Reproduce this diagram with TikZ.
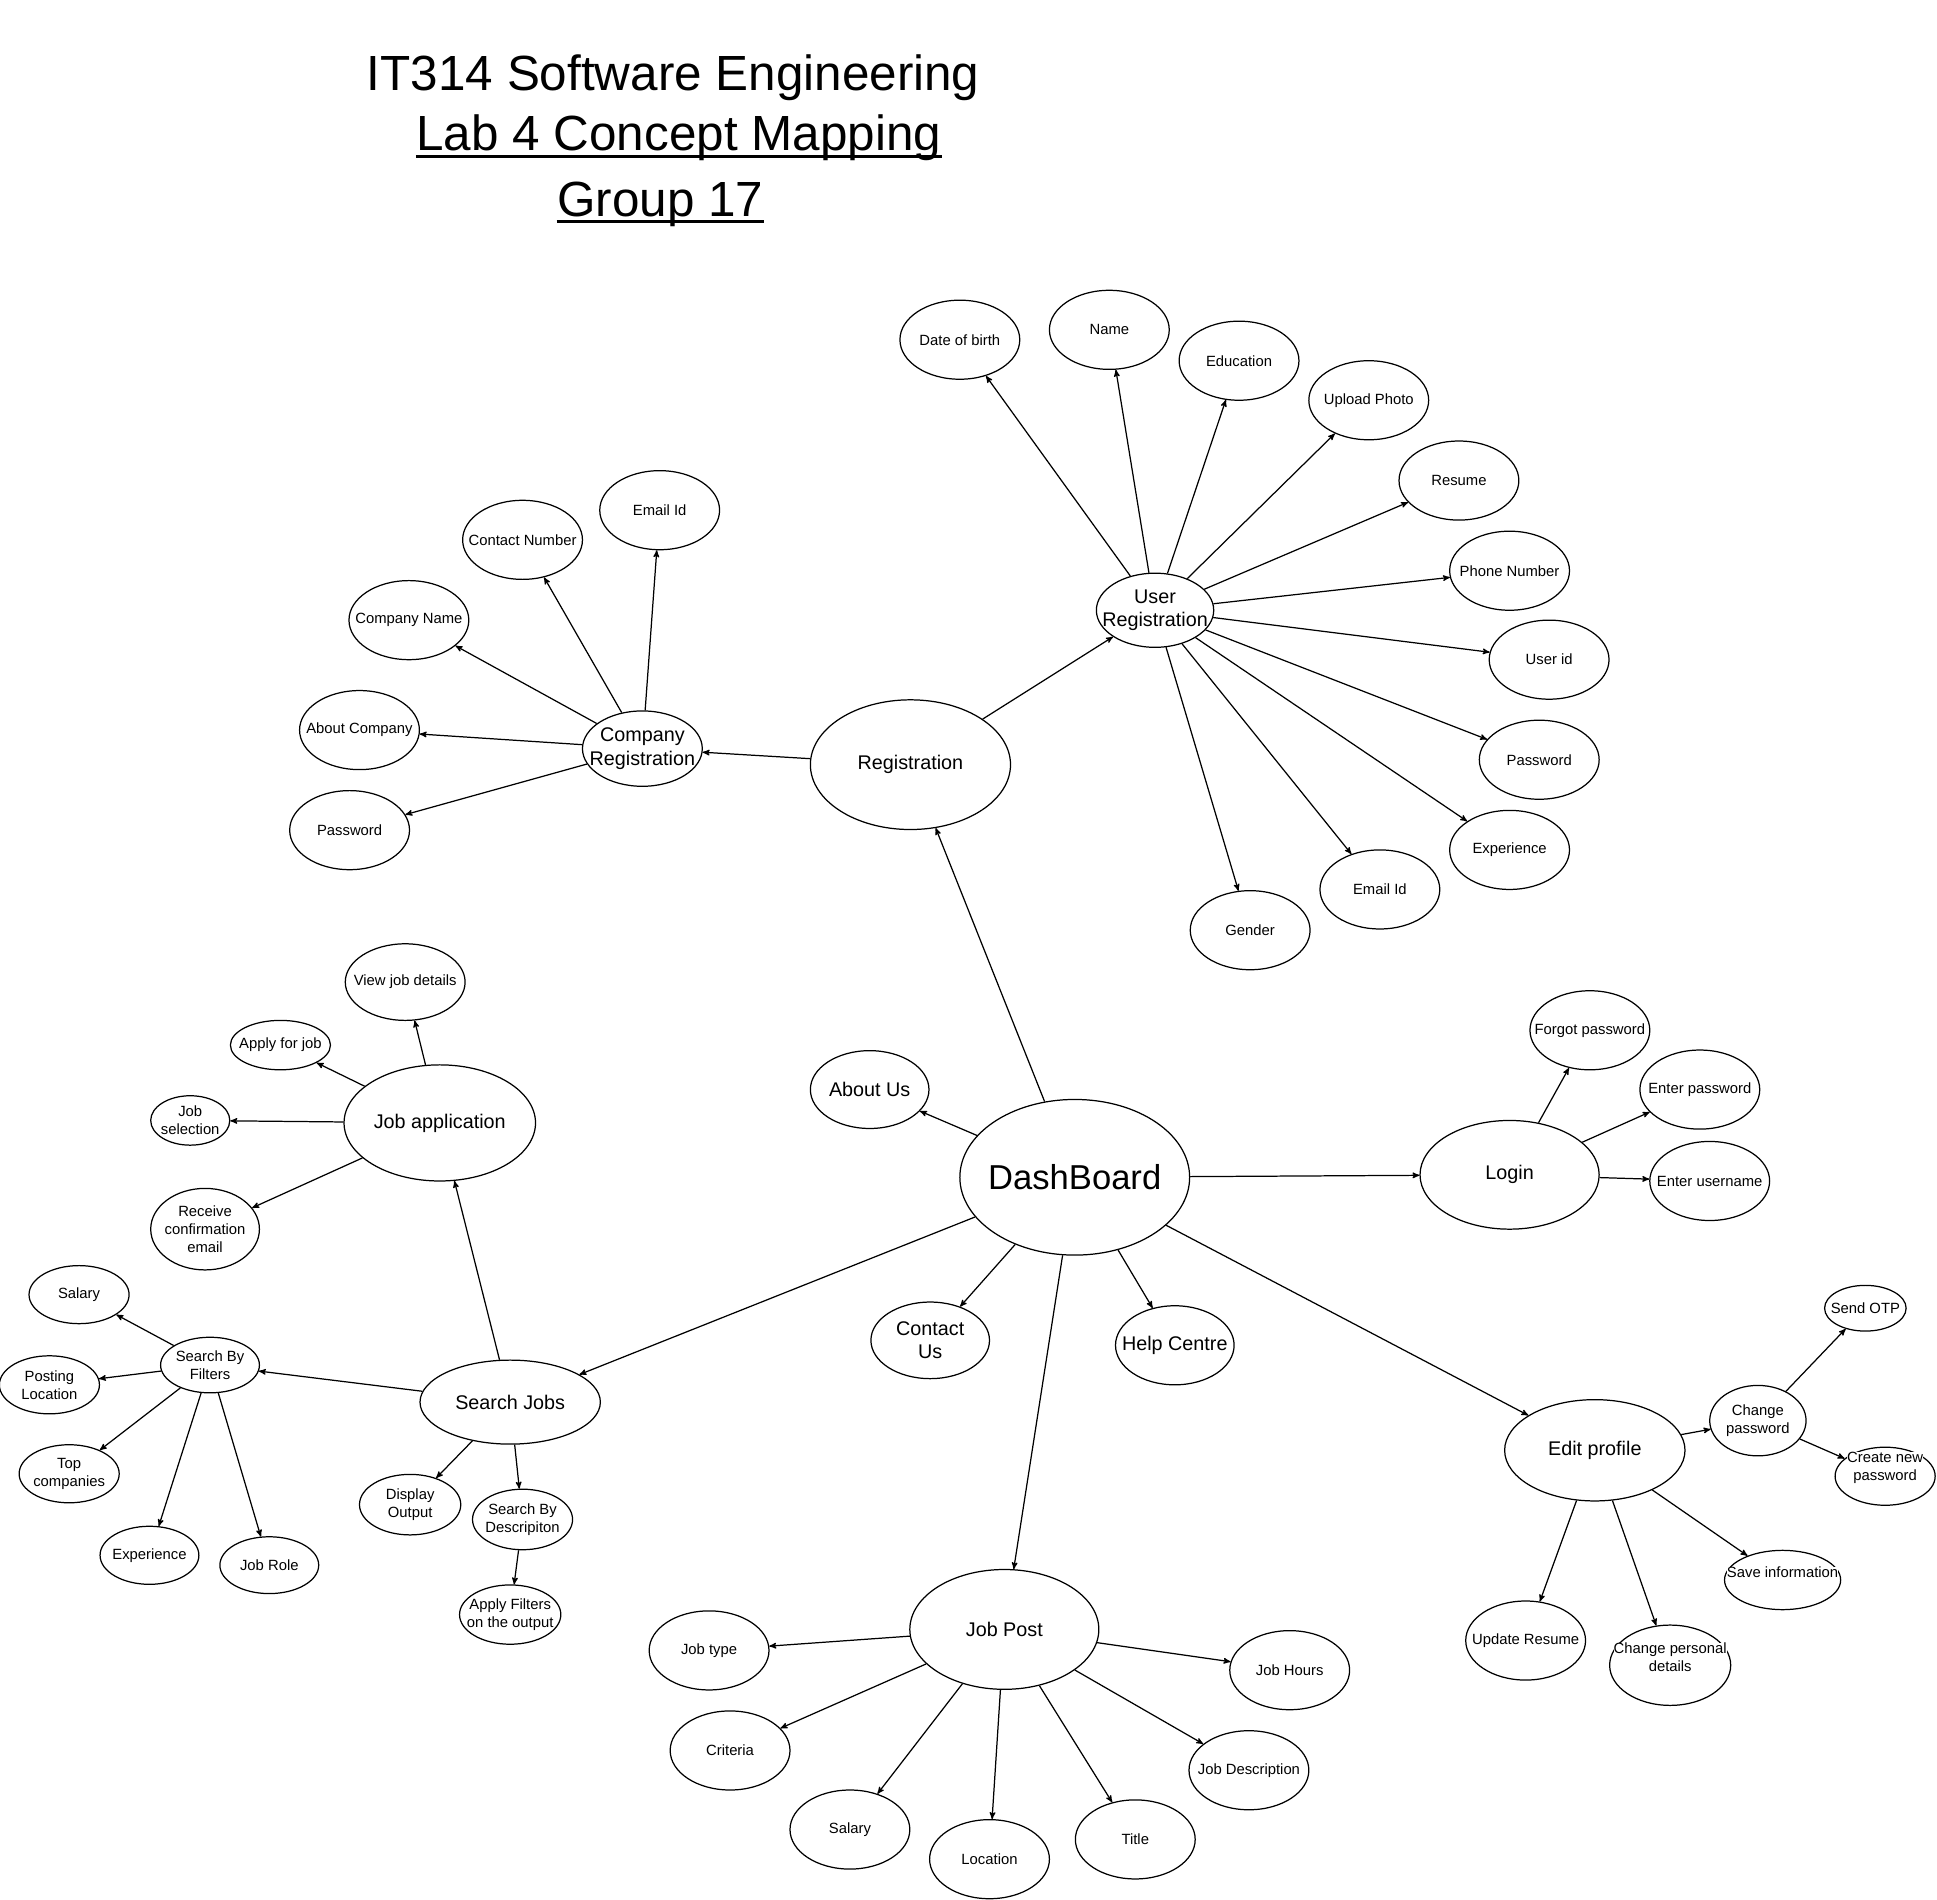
\documentclass[tikz,border=0pt]{standalone}
\usepackage{fontspec}
\setmainfont{Liberation Sans}
\usetikzlibrary{shapes.geometric}
\usetikzlibrary{positioning}
\usetikzlibrary{arrows}

\begin{document}
\begin{tikzpicture}[>=stealth',x=1pt,y=-1pt,line width=1pt,
	title node/.style={anchor=base,inner sep=0pt,font=\fontsize{40}{48}\selectfont},
	main node/.style={ellipse,draw,inner sep=-60pt,align=center,
		font=\fontsize{16}{19}\selectfont},
	attr node/.style={ellipse,draw,inner sep=-60pt,align=center,
		minimum width=97,minimum height=64,font=\fontsize{12}{14.5}\selectfont},
	leaf node/.style={attr node,minimum width=81,minimum height=47},
	text bg/.style={fill=white,inner sep=0pt,align=center,
		font=\fontsize{12}{14.5}\selectfont}]
	
	\useasboundingbox (0,0) rectangle (1568,1538);
	
	% title
	\node[title node] (t1) at (545,73) {IT314 Software Engineering};
	\node[title node] (t2) at (549.5,121.5) {Lab 4 Concept Mapping};
	\node[title node] (t3) at (534.5,175.5) {Group 17};
	\draw[line width=2.2pt] ([yshift=-5pt]t2.base west) -- ([yshift=-5pt]t2.base east);
	\draw[line width=2.2pt] ([yshift=-4pt]t3.base west) -- ([yshift=-4pt]t3.base east);
	
	% main concepts
	\node[main node,minimum width=186,minimum height=126,
		font=\fontsize{28}{32}\selectfont] (dash) at (870,953) {DashBoard};
	\node[main node,minimum width=162,minimum height=105] (reg) at (737,619) {Registration};
	\node[main node,minimum width=95,minimum height=60] (ureg) at (935,494) {User\\Registration};
	\node[main node,minimum width=97,minimum height=61] (creg) at (520,606) {Company\\Registration};
	\node[main node,minimum width=96,minimum height=63] (about) at (704,882) {About Us};
	\node[main node,minimum width=145,minimum height=88] (login) at (1222,951) {Login};
	\node[main node,minimum width=96,minimum height=62] (contact) at (753,1085) {Contact\\Us};
	\node[main node,minimum width=96,minimum height=64] (help) at (951,1089) {Help Centre};
	\node[main node,minimum width=153,minimum height=97] (jpost) at (813,1319) {Job Post};
	\node[main node,minimum width=146,minimum height=82] (edit) at (1291,1174) {Edit profile};
	\node[main node,minimum width=146,minimum height=68] (sjobs) at (413,1135) {Search Jobs};
	\node[main node,minimum width=155,minimum height=94] (japp) at (356,909) {Job application};
	
	% user registration
	\node[attr node] (dob) at (777,275) {Date of birth};
	\node[attr node] (uname) at (898,267) {Name};
	\node[attr node] (edu) at (1003,292) {Education};
	\node[attr node] (photo) at (1108,324) {Upload Photo};
	\node[attr node] (resume) at (1181,389) {Resume};
	\node[attr node] (phone) at (1222,462) {Phone Number};
	\node[attr node] (uid) at (1254,534) {User id};
	\node[attr node] (upass) at (1246,615) {Password};
	\node[attr node] (uexp) at (1222,688) {Experience};
	\node[attr node] (umail) at (1117,720) {Email Id};
	\node[attr node] (gender) at (1012,753) {Gender};
	
	% company registration
	\node[attr node] (cmail) at (534,413) {Email Id};
	\node[attr node] (cno) at (423,437) {Contact Number};
	\node[attr node] (cname) at (331,502) {Company Name};
	\node[attr node] (cabout) at (291,591) {About Company};
	\node[attr node] (cpass) at (283,672) {Password};
	
	% login
	\node[attr node] (forgot) at (1287,834) {Forgot password};
	\node[attr node] (enterpw) at (1376,882) {Enter password};
	\node[attr node] (enteruser) at (1384,956) {Enter username};
	
	% job post
	\node[attr node] (jtype) at (574,1336) {Job type};
	\node[attr node] (criteria) at (591,1417) {Criteria};
	\node[attr node] (psalary) at (688,1481) {Salary};
	\node[attr node] (location) at (801,1505) {Location};
	\node[attr node] (jtitle) at (919,1489) {Title};
	\node[attr node] (jdesc) at (1011,1433) {Job Description};
	\node[attr node] (jhours) at (1044,1352) {Job Hours};
	
	% edit profile
	\node[attr node] (update) at (1235,1328) {Update Resume};
	\node[attr node,minimum width=98,minimum height=65,
		label={[text bg,yshift=6.5pt]center:Change personal\\details}] (changepd) at (1352,1348) {};
	\node[attr node,minimum width=94,minimum height=48,
		label={[text bg,yshift=6pt]center:Save information}] (save) at (1443,1279) {};
	\node[attr node,minimum width=78,minimum height=57] (changepw) at (1423,1150) {Change\\password};
	\node[attr node,minimum width=66,minimum height=37] (otp) at (1510,1059) {Send OTP};
	\node[leaf node,minimum width=81,minimum height=47,
		label={[text bg,yshift=7pt]center:Create new\\password}] (newpw) at (1526,1195) {};
	
	% job application
	\node[attr node,minimum height=62] (viewjob) at (328,795) {View job details};
	\node[attr node,minimum width=81,minimum height=40] (applyjob) at (227,846) {Apply for job};
	\node[attr node,minimum width=64,minimum height=40] (jobsel) at (154,907) {Job\\selection};
	\node[attr node,minimum width=88,minimum height=66] (receive) at (166,995) {Receive\\confirmation\\email};
	
	% search jobs
	\node[leaf node,minimum width=80,minimum height=45] (filters) at (170,1105) {Search By\\Filters};
	\node[leaf node,minimum width=82,minimum height=49] (display) at (332,1218) {Display\\Output};
	\node[leaf node,minimum height=49] (sdesc) at (423,1230) {Search By\\Descripiton};
	\node[leaf node,minimum width=82,minimum height=48] (applyf) at (413,1307) {Apply Filters\\on the output};
	\node[leaf node] (fsalary) at (64,1048) {Salary};
	\node[leaf node] (posting) at (40,1121) {Posting\\Location};
	\node[leaf node] (topcomp) at (56,1193) {Top\\companies};
	\node[leaf node,minimum width=80] (fexp) at (121,1259) {Experience};
	\node[leaf node,minimum width=80,minimum height=46] (jobrole) at (218,1267) {Job Role};
	
	\path[->]
	(dash) edge (reg) edge (about) edge (login) edge (contact)
		edge (help) edge (jpost) edge (edit) edge (sjobs)
	(reg) edge (ureg) edge (creg)
	(ureg) edge (dob) edge (uname) edge (edu) edge (photo) edge (resume)
		edge (phone) edge (uid) edge (upass) edge (uexp) edge (umail) edge (gender)
	(creg) edge (cmail) edge (cno) edge (cname) edge (cabout) edge (cpass)
	(login) edge (forgot) edge (enterpw) edge (enteruser)
	(jpost) edge (jtype) edge (criteria) edge (psalary) edge (location)
		edge (jtitle) edge (jdesc) edge (jhours)
	(edit) edge (changepw) edge (save) edge (changepd) edge (update)
	(changepw) edge (otp) edge (newpw)
	(sjobs) edge (japp) edge (filters) edge (display) edge (sdesc)
	(sdesc) edge (applyf)
	(japp) edge (viewjob) edge (applyjob) edge (jobsel) edge (receive)
	(filters) edge (fsalary) edge (posting) edge (topcomp) edge (fexp) edge (jobrole);
\end{tikzpicture}
\end{document}
